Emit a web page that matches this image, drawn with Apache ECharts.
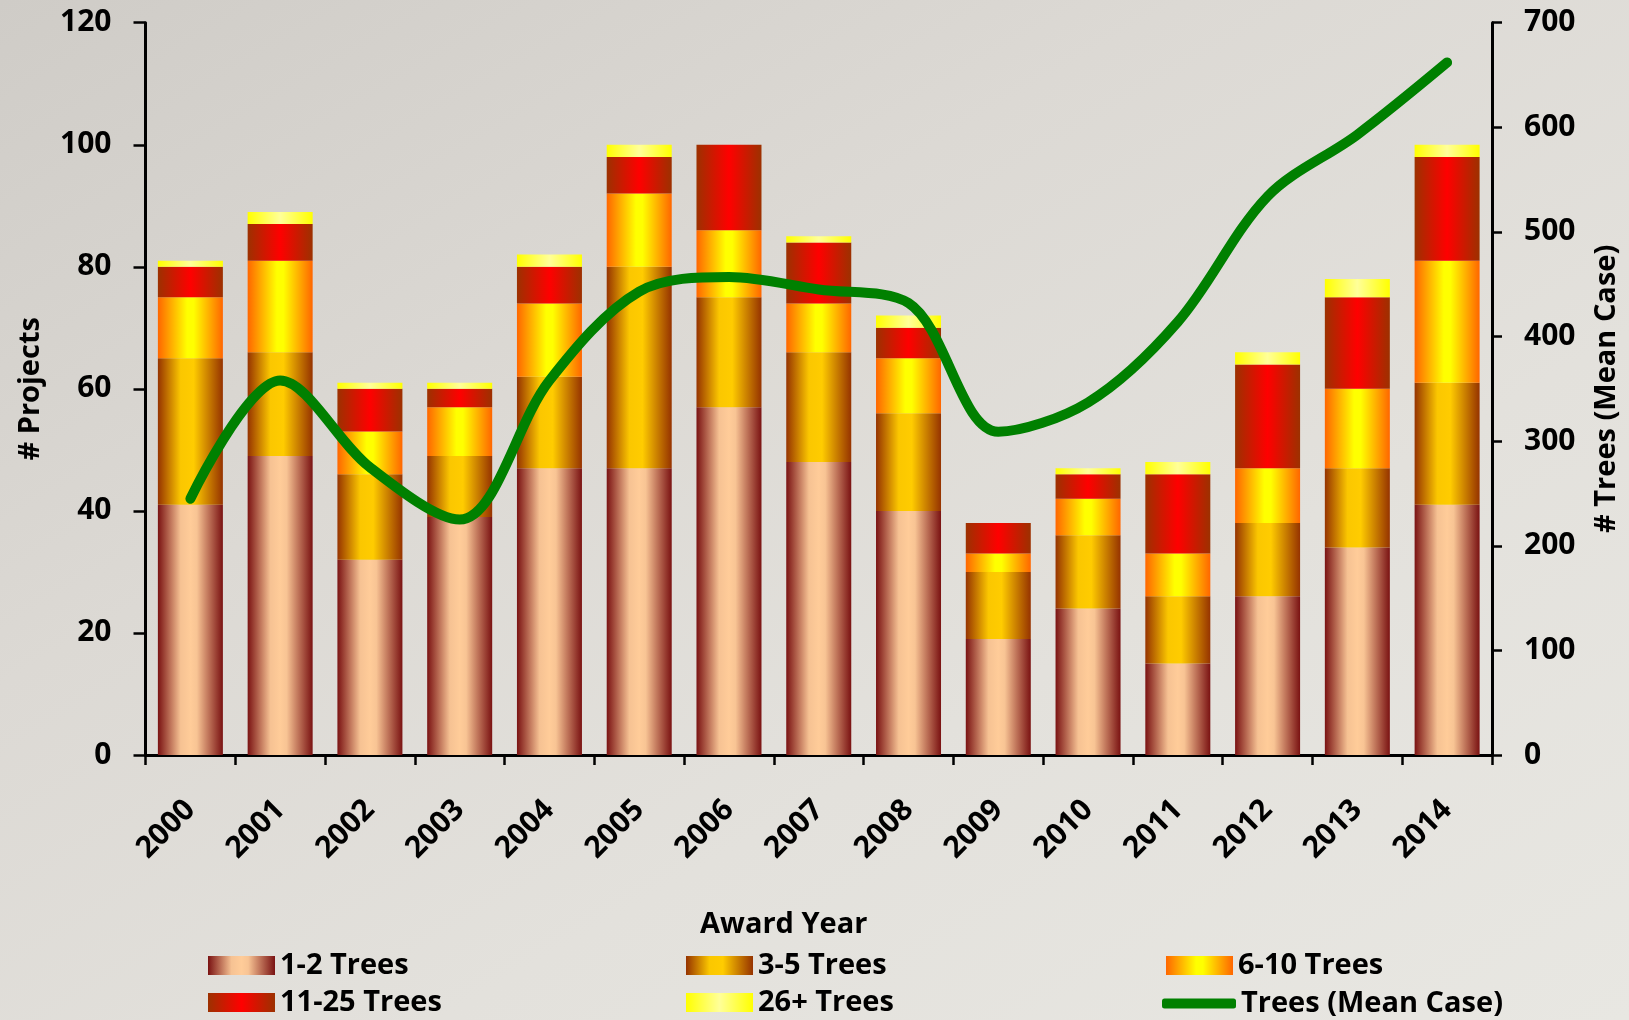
<!DOCTYPE html>
<html>
<head>
<meta charset="utf-8">
<script src="https://cdn.jsdelivr.net/npm/echarts@6/dist/echarts.min.js"></script>
<style>
html,body{margin:0;padding:0;}
#chart{width:1629px;height:1020px;background:linear-gradient(150deg,#cfccc7 0%,#dcd9d4 35%,#e3e1dc 65%,#e8e7e2 100%);}
</style>
</head>
<body>
<div id="chart"></div>
<script>
const years = ['2000','2001','2002','2003','2004','2005','2006','2007','2008','2009','2010','2011','2012','2013','2014'];
const trees1to2 = [41,49,32,39,47,47,57,48,40,19,24,15,26,34,41];
const trees3to5 = [24,17,14,10,15,33,18,18,16,11,12,11,12,13,20];
const trees6to10 = [10,15,7,8,12,12,11,8,9,3,6,7,9,13,20];
const trees11to25 = [5,6,7,3,6,6,14,10,5,5,4,13,17,15,17];
const trees26plus = [1,2,1,1,2,2,0,1,2,0,1,2,2,3,2];
const meanTrees = [245,358,275,225,358,443,457,445,432,309,337,414,534,593,662];
const leftTicks = {min:0,max:120,interval:20};
const rightTicks = {min:0,max:700,interval:100};

function hgrad(stops){
  return {type:'linear',x:0,y:0,x2:1,y2:0,colorStops:stops.map(s=>({offset:s[0],color:s[1]}))};
}
const g12 = hgrad([[0,'#7a1212'],[0.35,'#f6c293'],[0.5,'#ffcc99'],[0.6,'#f8c494'],[1,'#7a1212']]);
const g35 = hgrad([[0,'#963300'],[0.35,'#fbc700'],[0.55,'#ffcc00'],[1,'#963300']]);
const g610 = hgrad([[0,'#ff6600'],[0.45,'#ffff00'],[0.55,'#ffff00'],[1,'#ff6600']]);
const g1125 = hgrad([[0,'#9c3100'],[0.5,'#ff0000'],[1,'#9c3100']]);
const g26 = hgrad([[0,'#ffff00'],[0.5,'#ffff99'],[1,'#ffff00']]);

const font = '"Open Sans","Noto Sans",sans-serif';
const txt = {color:'#000',fontWeight:'bold',fontFamily:font,fontSize:30};

function barSeries(name, data, color){
  return {name, type:'bar', stack:'p', data, barWidth:65,
    itemStyle:{color}, emphasis:{disabled:true}};
}

const legendBase = {orient:'vertical', itemWidth:67, itemHeight:19, itemGap:8, icon:'rect',
  height:200, padding:0, selectedMode:false, textStyle:Object.assign({},txt,{fontSize:29})};

const chart = echarts.init(document.getElementById('chart'));
chart.setOption({
  animation:false,
  backgroundColor:'transparent',
  grid:{left:145.5,right:137,top:22.7,bottom:265},
  legend:[
    Object.assign({},legendBase,{left:208,top:951,data:['1-2 Trees','11-25 Trees']}),
    Object.assign({},legendBase,{left:686,top:951,data:['3-5 Trees','26+ Trees']}),
    Object.assign({},legendBase,{left:1166,top:951,data:['6-10 Trees']}),
    Object.assign({},legendBase,{left:1162,top:989,itemWidth:74,itemHeight:10,icon:'roundRect',data:['Trees (Mean Case)']})
  ],
  xAxis:{type:'category',data:years,
    name:'Award Year',nameLocation:'middle',nameGap:155,
    nameTextStyle:Object.assign({},txt,{fontSize:29,padding:[0,70,0,0]}),
    axisLine:{lineStyle:{color:'#000',width:3}},
    axisTick:{show:true,length:10,lineStyle:{color:'#000',width:2.5}},
    axisLabel:Object.assign({},txt,{rotate:45,margin:50,interval:0})
  },
  yAxis:[
    {type:'value',min:leftTicks.min,max:leftTicks.max,interval:leftTicks.interval,
      name:'# Projects',nameLocation:'middle',nameGap:100,nameRotate:90,
      nameTextStyle:Object.assign({},txt,{fontSize:29}),
      axisLine:{show:true,lineStyle:{color:'#000',width:3}},
      axisTick:{show:true,length:12,lineStyle:{color:'#000',width:2.5}},
      axisLabel:Object.assign({},txt,{margin:34}),
      splitLine:{show:false}},
    {type:'value',position:'right',min:rightTicks.min,max:rightTicks.max,interval:rightTicks.interval,
      name:'# Trees (Mean Case)',nameLocation:'middle',nameGap:100,nameRotate:90,
      nameTextStyle:Object.assign({},txt,{fontSize:29}),
      axisLine:{show:true,lineStyle:{color:'#000',width:3}},
      axisTick:{show:true,length:10,lineStyle:{color:'#000',width:2.5}},
      axisLabel:Object.assign({},txt,{margin:32}),
      splitLine:{show:false}}
  ],
  series:[
    barSeries('1-2 Trees',trees1to2,g12),
    barSeries('3-5 Trees',trees3to5,g35),
    barSeries('6-10 Trees',trees6to10,g610),
    barSeries('11-25 Trees',trees11to25,g1125),
    barSeries('26+ Trees',trees26plus,g26),
    {name:'Trees (Mean Case)',type:'line',yAxisIndex:1,data:meanTrees,smooth:0.33,
      showSymbol:false,symbol:'none',z:10,
      lineStyle:{color:'#008000',width:10,cap:'round',join:'round'},
      itemStyle:{color:'#008000'},emphasis:{disabled:true}}
  ]
});
</script>
</body>
</html>
